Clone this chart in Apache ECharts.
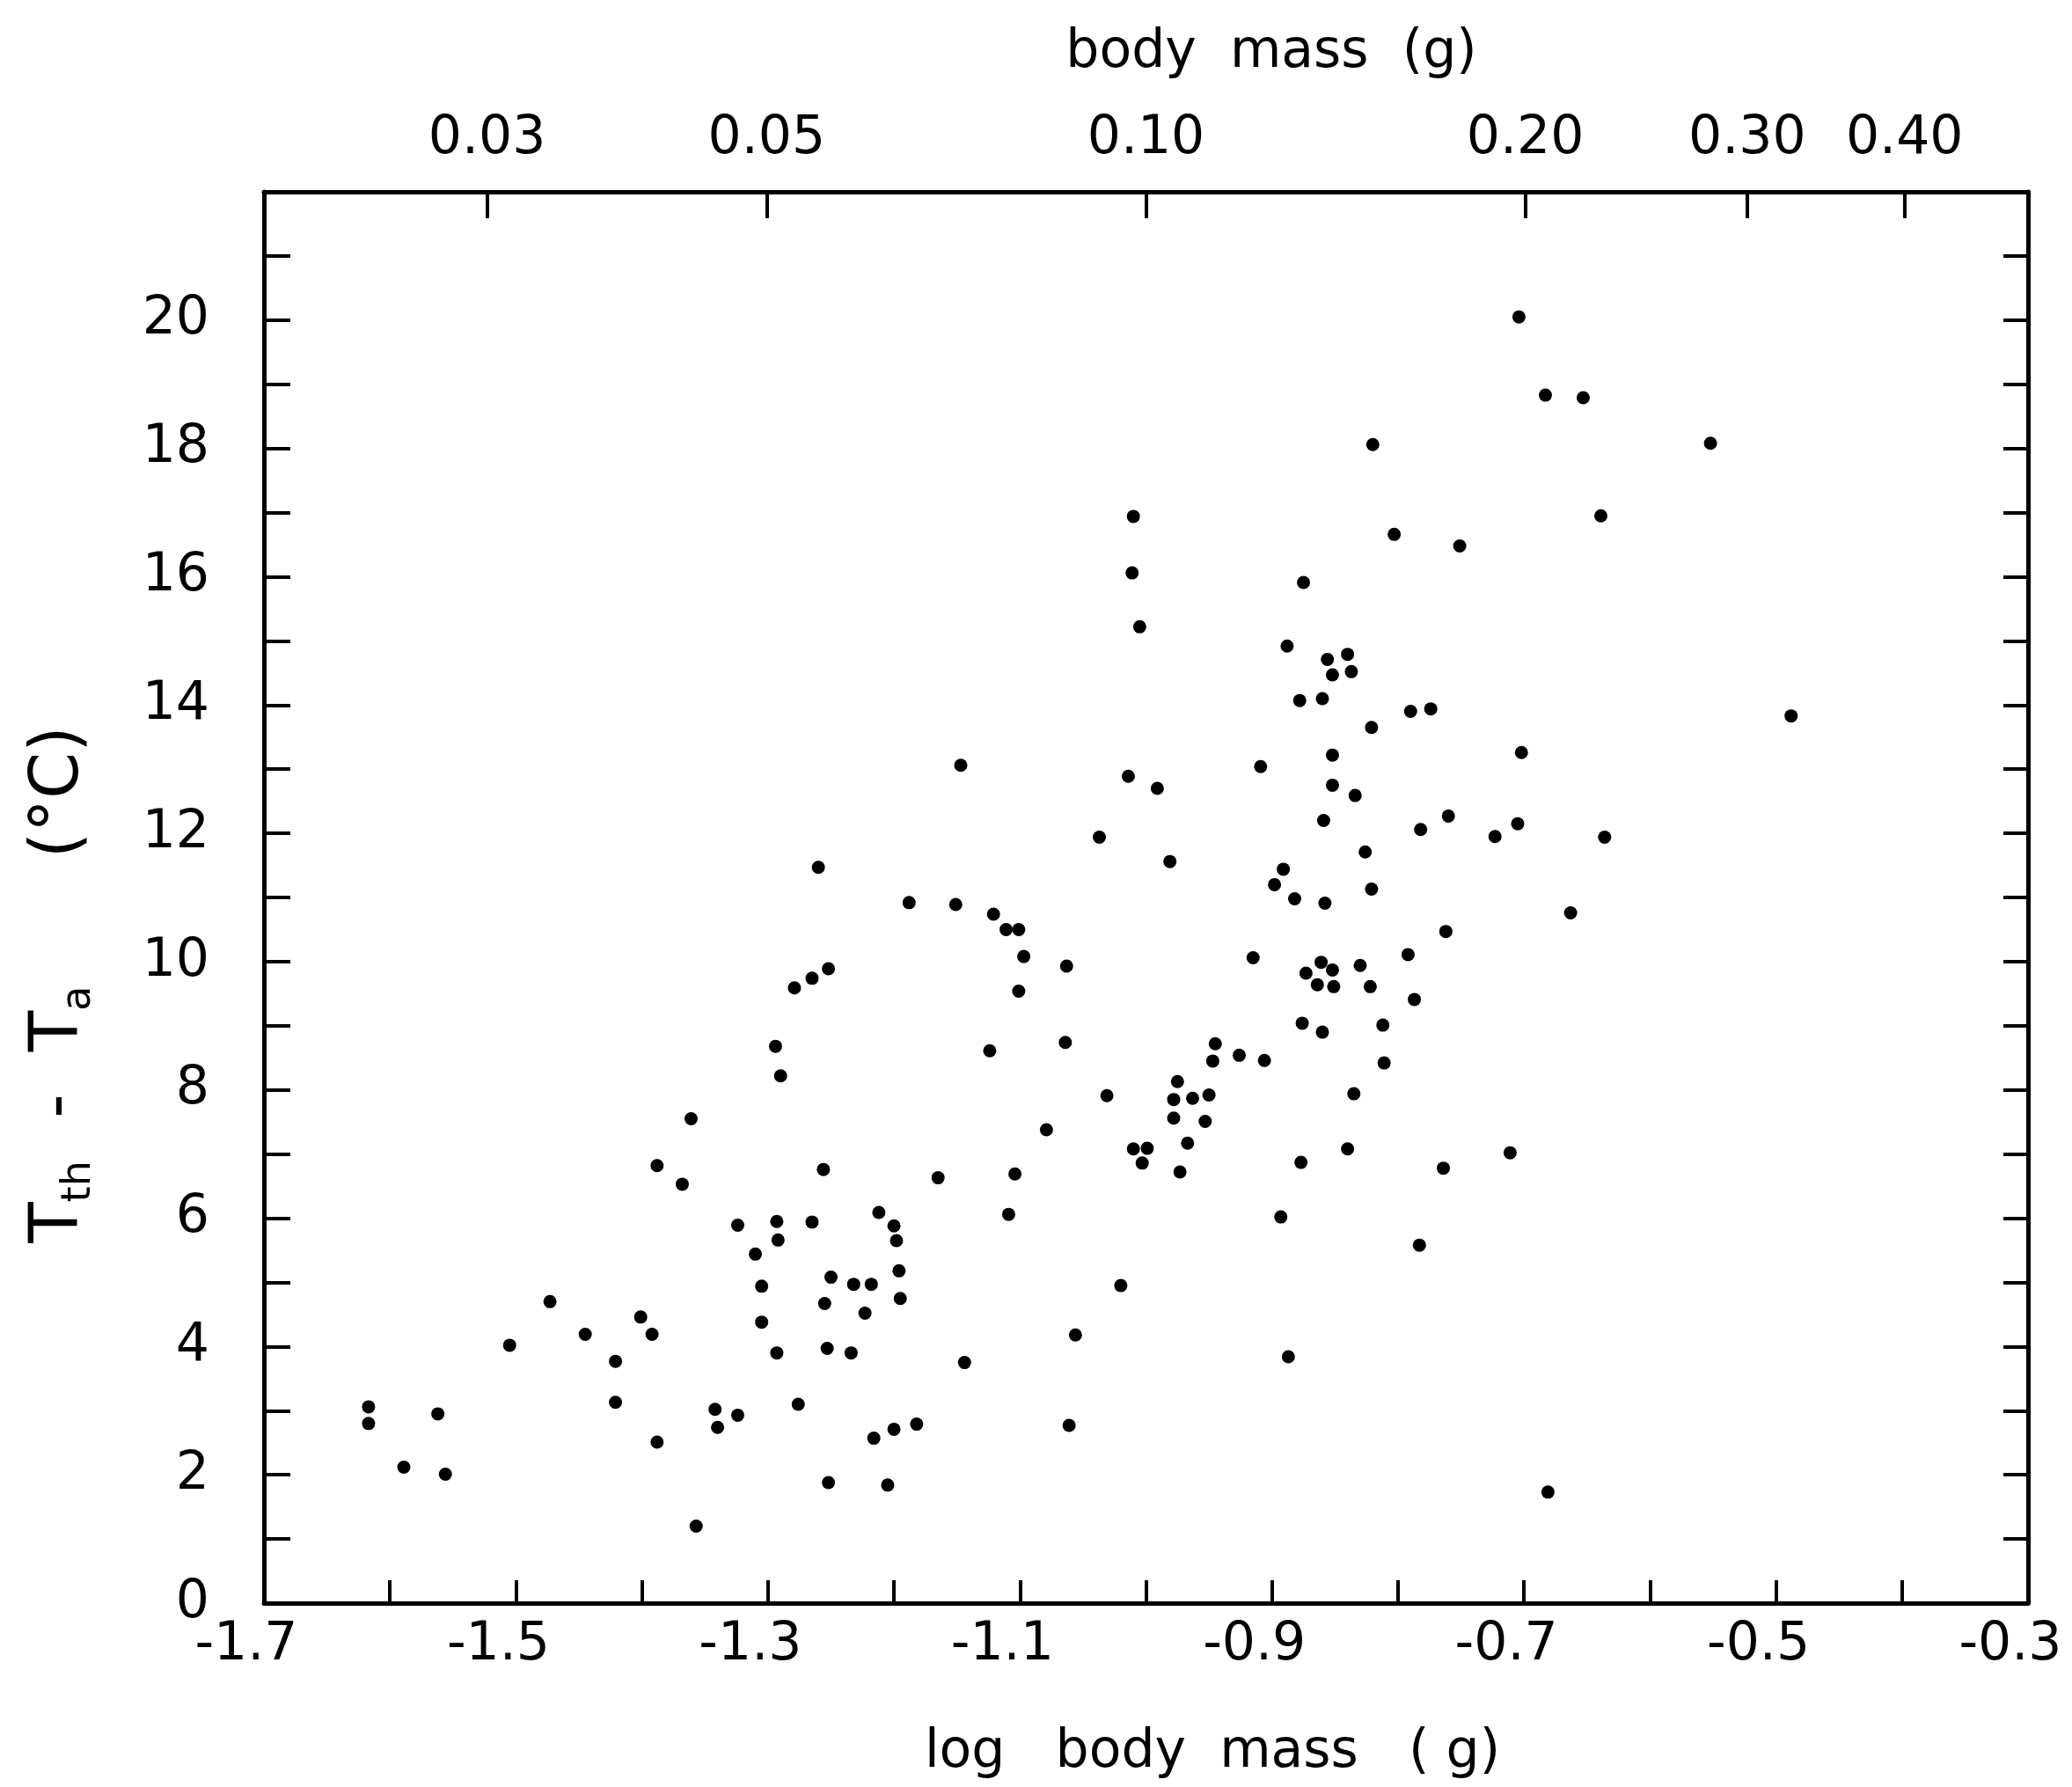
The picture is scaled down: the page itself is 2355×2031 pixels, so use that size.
<!DOCTYPE html>
<html>
<head>
<meta charset="UTF-8">
<title>T_th - T_a vs log body mass</title>
<script src="https://cdn.jsdelivr.net/npm/echarts@6.0.0/dist/echarts.min.js"></script>
<style>
  html, body { margin: 0; padding: 0; background: #fff; }
  #main { width: 2355px; height: 2031px; }
</style>
</head>
<body>
<div id="main"></div>
<script>
// log body mass (g) of each point
var logMass = [
  -1.617, -1.617, -1.589, -1.562, -1.556, -1.505, -1.473, -1.445, -1.421, -1.421,
  -1.401, -1.392, -1.388, -1.388, -1.368, -1.361, -1.357, -1.342, -1.340, -1.324,
  -1.324, -1.310, -1.305, -1.305, -1.293, -1.293, -1.292, -1.294, -1.290, -1.279,
  -1.265, -1.252, -1.276, -1.265, -1.260, -1.256, -1.255, -1.253, -1.252, -1.250,
  -1.234, -1.232, -1.223, -1.218, -1.216, -1.212, -1.205, -1.200, -1.200, -1.198,
  -1.196, -1.195, -1.182, -1.188, -1.165, -1.151, -1.147, -1.144, -1.124, -1.121,
  -1.111, -1.101, -1.109, -1.104, -1.101, -1.097, -1.079, -1.064, -1.063, -1.061,
  -1.056, -1.037, -1.031, -1.020, -1.014, -1.010, -1.011, -1.005, -1.010, -0.999,
  -1.003, -0.991, -0.981, -0.978, -0.975, -0.978, -0.973, -0.967, -0.963, -0.953,
  -0.950, -0.947, -0.945, -0.926, -0.915, -0.909, -0.906, -0.898, -0.893, -0.891,
  -0.888, -0.887, -0.882, -0.878, -0.877, -0.876, -0.875, -0.873, -0.864, -0.861,
  -0.860, -0.860, -0.859, -0.858, -0.856, -0.852, -0.852, -0.852, -0.852, -0.851,
  -0.840, -0.840, -0.837, -0.835, -0.834, -0.830, -0.826, -0.822, -0.821, -0.821,
  -0.820, -0.812, -0.811, -0.803, -0.792, -0.790, -0.787, -0.783, -0.782, -0.774,
  -0.764, -0.762, -0.760, -0.751, -0.723, -0.711, -0.705, -0.704, -0.702, -0.683,
  -0.681, -0.663, -0.653, -0.639, -0.636, -0.552, -0.488
];
// T_th - T_a (deg C) of each point
var tempDiff = [
  3.06, 2.80, 2.12, 2.95, 2.01, 4.02, 4.70, 4.19, 3.77, 3.13,
  4.46, 4.19, 2.51, 6.82, 6.53, 7.55, 1.20, 3.02, 2.74, 2.93,
  5.89, 5.44, 4.94, 4.38, 3.90, 5.95, 5.66, 8.68, 8.22, 9.59,
  9.74, 9.89, 3.10, 5.94, 11.47, 6.76, 4.67, 3.97, 1.88, 5.08,
  3.90, 4.97, 4.52, 4.97, 2.57, 6.09, 1.84, 5.88, 2.71, 5.65,
  5.18, 4.75, 2.79, 10.92, 6.63, 10.89, 13.06, 3.75, 8.61, 10.74,
  10.50, 10.50, 6.06, 6.69, 9.54, 10.08, 7.38, 8.74, 9.93, 2.77,
  4.18, 11.94, 7.91, 4.95, 12.89, 16.94, 16.06, 15.22, 7.08, 7.09,
  6.86, 12.70, 11.56, 7.85, 8.13, 7.56, 6.72, 7.17, 7.87, 7.51,
  7.92, 8.45, 8.72, 8.54, 10.06, 13.04, 8.46, 11.20, 6.02, 11.44,
  14.92, 3.84, 10.98, 14.07, 6.87, 9.04, 15.91, 9.82, 9.64, 9.99,
  14.10, 8.90, 12.20, 10.91, 14.71, 13.22, 12.75, 14.47, 9.87, 9.61,
  14.79, 7.08, 14.52, 7.94, 12.59, 9.94, 11.71, 9.61, 13.65, 11.13,
  18.06, 9.01, 8.42, 16.66, 10.11, 13.90, 9.41, 5.58, 12.06, 13.94,
  6.78, 10.47, 12.27, 16.48, 11.95, 7.02, 12.15, 20.05, 13.26, 18.83,
  1.73, 10.76, 18.79, 16.95, 11.94, 18.08, 13.83
];

// axis labels
var xLabelValues = [-1.7, -1.5, -1.3, -1.1, -0.9, -0.7, -0.5, -0.3];
var yLabelValues = [0, 2, 4, 6, 8, 10, 12, 14, 16, 18, 20];
var massTicks = [0.03, 0.05, 0.10, 0.20, 0.30, 0.40];
var massLabels = ['0.03', '0.05', '0.10', '0.20', '0.30', '0.40'];

var font = 'DejaVu Sans';
var points = logMass.map(function (x, i) { return [x, tempDiff[i]]; });
var massTickPos = massTicks.map(function (m) { return Math.log10(m); });

var axisLine = { show: true, onZero: false, lineStyle: { color: '#000', width: 5 } };
var tickStyle = { color: '#000', width: 4 };

var myChart = echarts.init(document.getElementById('main'));
var option = {
  animation: false,
  backgroundColor: '#fff',
  grid: {
    left: 300, right: 50, top: 218, bottom: 209,
    containLabel: false, outerBoundsMode: 'none'
  },
  xAxis: [
    {
      type: 'value', position: 'bottom',
      min: -1.7, max: -0.3, interval: 0.1,
      axisLine: axisLine,
      axisTick: { show: true, inside: true, length: 26, lineStyle: tickStyle },
      axisLabel: {
        customValues: xLabelValues,
        formatter: function (v) { return v.toFixed(1); },
        padding: [0, 40, 0, 0],
        margin: 18, color: '#000', fontSize: 60, fontFamily: font
      },
      splitLine: { show: false }
    },
    {
      type: 'value', position: 'top',
      min: -1.7, max: -0.3,
      axisLine: axisLine,
      axisTick: { show: true, inside: true, length: 30, lineStyle: tickStyle, customValues: massTickPos },
      axisLabel: {
        customValues: massTickPos,
        formatter: function (v) {
          var best = 0;
          massTickPos.forEach(function (p, i) {
            if (Math.abs(p - v) < Math.abs(massTickPos[best] - v)) best = i;
          });
          return massLabels[best];
        },
        margin: 30, color: '#000', fontSize: 60, fontFamily: font
      },
      splitLine: { show: false }
    }
  ],
  yAxis: [
    {
      type: 'value', position: 'left',
      min: 0, max: 22, interval: 1,
      axisLine: axisLine,
      axisTick: { show: true, inside: true, length: 30, lineStyle: tickStyle },
      axisLabel: {
        customValues: yLabelValues,
        margin: 62, color: '#000', fontSize: 60, fontFamily: font
      },
      splitLine: { show: false }
    },
    {
      type: 'value', position: 'right',
      min: 0, max: 22, interval: 1,
      axisLine: axisLine,
      axisTick: { show: true, inside: true, length: 28, lineStyle: tickStyle },
      axisLabel: { show: false },
      splitLine: { show: false }
    }
  ],
  graphic: [
    {
      type: 'text', x: 1445, y: 60,
      style: {
        text: 'body  mass  (g)', fill: '#000',
        font: '60px "DejaVu Sans"', align: 'center', verticalAlign: 'middle'
      }
    },
    {
      type: 'text', x: 1378, y: 1992,
      style: {
        text: 'log   body  mass   ( g)', fill: '#000',
        font: '60px "DejaVu Sans"', align: 'center', verticalAlign: 'middle'
      }
    },
    {
      type: 'text', x: 68, y: 1119, rotation: Math.PI / 2,
      style: {
        text: '{a|T}{s|th}{a|  -  T}{s|a}{a|      (°C)}',
        fill: '#000', align: 'center', verticalAlign: 'middle',
        rich: {
          a: { fontSize: 76, fontFamily: font, lineHeight: 90, verticalAlign: 'middle', fill: '#000' },
          s: { fontSize: 46, fontFamily: font, lineHeight: 46, verticalAlign: 'bottom', fill: '#000' }
        }
      }
    }
  ],
  series: [
    {
      type: 'scatter',
      xAxisIndex: 0, yAxisIndex: 0,
      symbol: 'circle', symbolSize: 15,
      itemStyle: { color: '#000', opacity: 1 },
      data: points
    }
  ]
};
myChart.setOption(option);
</script>
</body>
</html>
